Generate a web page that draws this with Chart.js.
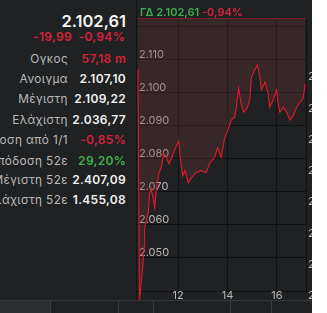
<!DOCTYPE html>
<html>
<head>
<meta charset="utf-8">
<script src="https://cdn.jsdelivr.net/npm/chart.js@4.4.1/dist/chart.umd.min.js"></script>
<style>
    html, body { margin: 0; padding: 0; width: 327px; height: 313px; overflow: hidden; background: #fff; }
    #app { position: absolute; left: 0; top: 0; width: 312px; height: 313px; background: #1f2123; overflow: hidden; font-family: Inter, sans-serif; }
    .row { position: absolute; left: 0; width: 130px; height: 14px; line-height: 14px; white-space: nowrap; }
    .lbl { position: absolute; right: 62px; color: #b9b9b9; font-size: 11.8px; letter-spacing: 0.4px; }
    .val { position: absolute; right: 4px; color: #f2f2f2; font-size: 12px; font-weight: 600; letter-spacing: 0.3px; }
    .red { color: #d7223c; }
    .green { color: #3fae4b; }
    #big { position: absolute; right: 186px; top: 12px; color: #f4f4f4; font-size: 16.5px; font-weight: 600; line-height: 18px; }
    #chg { position: absolute; right: 187px; top: 30px; font-size: 12px; font-weight: 600; letter-spacing: 0.3px; line-height: 14px; }
    #head { position: absolute; left: 140px; top: 5px; font-size: 11px; font-weight: 600; line-height: 14px; }
    #wrap { position: absolute; left: 136px; top: 0; width: 175px; height: 300px; overflow: hidden; border-left: 1px solid #121415; }
    #tabs { position: absolute; left: 0; top: 300px; width: 312px; height: 13px; border-top: 1px solid #35383b; }
    .tab { position: absolute; top: 0; height: 13px; border-right: 1px solid #3a3d40; }
</style>
</head>
<body>
<div id="app">
    <div id="big">2.102,61</div>
    <div id="chg" class="red">-19,99&nbsp;&nbsp;-0,94%</div>

    <div class="row" style="top:52px"><span class="lbl">Ογκος</span><span class="val red">57,18 m</span></div>
    <div class="row" style="top:72px"><span class="lbl">Ανοιγμα</span><span class="val">2.107,10</span></div>
    <div class="row" style="top:92px"><span class="lbl">Μέγιστη</span><span class="val">2.109,22</span></div>
    <div class="row" style="top:113px"><span class="lbl">Ελάχιστη</span><span class="val">2.036,77</span></div>
    <div class="row" style="top:133px"><span class="lbl">Απόδοση από 1/1</span><span class="val red">-0,85%</span></div>
    <div class="row" style="top:154px"><span class="lbl">Απόδοση 52ε</span><span class="val green">29,20%</span></div>
    <div class="row" style="top:173px"><span class="lbl">Μέγιστη 52ε</span><span class="val">2.407,09</span></div>
    <div class="row" style="top:193px"><span class="lbl">Ελάχιστη 52ε</span><span class="val">1.455,08</span></div>

    <div id="wrap"><canvas id="lineChart" width="205" height="300" style="width:205px;height:300px"></canvas></div>
    <div id="head"><span class="green">ΓΔ 2.102,61</span> <span class="red">-0,94%</span></div>

    <div id="tabs">
        <div class="tab" style="left:0;width:50px;background:#2b2e31"></div>
        <div class="tab" style="left:51px;width:67px"></div>
        <div class="tab" style="left:119px;width:34px"></div>
        <div class="tab" style="left:154px;width:76px"></div>
        <div class="tab" style="left:231px;width:40px"></div>
    </div>
</div>

<script>
// ώρα (σε ώρες) και τιμή του ΓΔ
const times = [10.37, 10.43, 10.57, 10.62, 10.64, 10.78, 10.84, 10.90, 10.98, 11.05,
    11.11, 11.22, 11.31, 11.42, 11.52, 11.63, 11.77, 11.93, 12.02, 12.08,
    12.18, 12.27, 12.41, 12.54, 12.72, 12.93, 13.13, 13.27, 13.47, 13.60,
    13.74, 13.88, 14.01, 14.15, 14.29, 14.36, 14.45, 14.56, 14.65, 14.79,
    14.90, 14.97, 15.10, 15.21, 15.31, 15.38, 15.51, 15.64, 15.71, 15.85,
    15.99, 16.05, 16.12, 16.26, 16.40, 16.53, 16.67, 16.80, 16.94, 17.07, 17.14];
const prices = [2107.1, 2036.8, 2048.1, 2053.5, 2059.0, 2063.3, 2069.4, 2070.9, 2068.2, 2065.1,
    2070.3, 2075.8, 2077.3, 2081.6, 2080.4, 2078.5, 2081.0, 2084.0, 2085.3, 2080.4,
    2074.9, 2076.4, 2072.8, 2074.3, 2075.8, 2076.4, 2075.8, 2078.5, 2080.4, 2083.4,
    2080.4, 2086.2, 2088.6, 2091.7, 2092.6, 2095.6, 2101.4, 2096.2, 2094.1, 2095.3,
    2097.8, 2104.8, 2106.9, 2108.4, 2104.8, 2100.8, 2103.2, 2099.9, 2095.6, 2097.8,
    2100.8, 2096.8, 2094.1, 2095.6, 2094.1, 2091.7, 2093.2, 2095.6, 2097.1, 2098.4, 2102.6];
const prevClose = 2122.60;

const xRange = [10.33, 17.18];
const xTicks = [12, 14, 16];
const yRange = [2040, prevClose];
const yTicks = [2040, 2050, 2060, 2070, 2080, 2090, 2100, 2110, 2120];
const yLabelled = [2050, 2060, 2070, 2080, 2090, 2100, 2110];
const y2Range = [2041.6, 2128.85];
const y2Ticks = [2040, 2050, 2060, 2070, 2080, 2090, 2100, 2110];

const fmt = v => Math.floor(v / 1000) + '.' + String(Math.round(v % 1000)).padStart(3, '0');
const gridColor = '#0f1112';
const tickColor = '#b8b8b8';
const noPad = s => { s.paddingTop = 0; s.paddingBottom = 0; s.paddingLeft = 0; s.paddingRight = 0; };

document.addEventListener("DOMContentLoaded", () => {
    const ctx = document.getElementById("lineChart");

    new Chart(ctx, {
        type: 'line',
        data: {
            datasets: [{
                data: times.map((t, i) => ({ x: t, y: prices[i] })),
                borderColor: '#e3192b',
                borderWidth: 1.1,
                backgroundColor: 'rgba(112,52,52,0.3)',
                fill: 'end',
                pointRadius: 0,
                tension: 0,
                clip: { left: 1, top: 1, right: 1, bottom: 12 }
            }, {
                data: [{ x: xRange[0], y: prevClose }, { x: xRange[1], y: prevClose }],
                borderColor: '#a3141f',
                borderWidth: 1.5,
                pointRadius: 0,
                fill: false
            }]
        },
        options: {
            responsive: false,
            animation: false,
            layout: { padding: { top: 18, left: 0, right: 0, bottom: 0 } },
            plugins: {
                legend: { display: false },
                tooltip: { enabled: false }
            },
            scales: {
                x: {
                    type: 'linear',
                    min: xRange[0],
                    max: xRange[1],
                    afterBuildTicks: s => { s.ticks = xTicks.map(v => ({ value: v })); },
                    afterFit: s => { s.height = 9; noPad(s); },
                    grid: { color: gridColor, drawTicks: false },
                    border: { display: true, color: gridColor },
                    ticks: {
                        color: tickColor,
                        font: { family: 'Inter', size: 11 },
                        padding: -2,
                        maxRotation: 0
                    }
                },
                y: {
                    min: yRange[0],
                    max: yRange[1],
                    afterBuildTicks: s => { s.ticks = yTicks.map(v => ({ value: v })); },
                    afterFit: s => { s.width = 0; noPad(s); },
                    grid: { color: gridColor, drawTicks: false },
                    border: { display: false },
                    ticks: {
                        mirror: true,
                        padding: 2,
                        labelOffset: -5,
                        color: tickColor,
                        font: { family: 'Inter', size: 11 },
                        callback: v => yLabelled.includes(v) ? fmt(v) : ''
                    }
                },
                y2: {
                    position: 'right',
                    min: y2Range[0],
                    max: y2Range[1],
                    afterBuildTicks: s => { s.ticks = y2Ticks.map(v => ({ value: v })); },
                    afterFit: s => { s.width = 36; noPad(s); },
                    grid: { drawOnChartArea: false, drawTicks: false },
                    border: { display: true, color: gridColor },
                    ticks: {
                        padding: 2,
                        color: tickColor,
                        font: { family: 'Inter', size: 11 },
                        callback: v => fmt(v)
                    }
                }
            }
        }
    });
});
</script>
</body>
</html>
